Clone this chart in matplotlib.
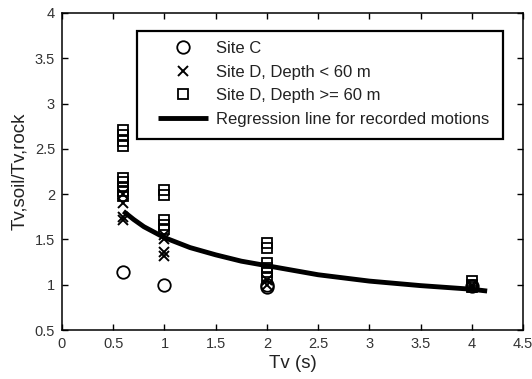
import matplotlib
matplotlib.use("Agg")
import matplotlib.pyplot as plt
from matplotlib.patches import Rectangle

plt.rcParams['font.family'] = ['Liberation Sans', 'DejaVu Sans']

# Site C (circles)
c_x = [0.6, 1.0, 2.0, 2.0, 4.0]
c_y = [1.14, 1.00, 1.00, 0.98, 0.99]
# Site D, depth < 60 m (crosses)
d1_x = [0.6, 0.6, 0.6, 0.6, 1.0, 1.0, 1.0, 1.0, 2.0, 2.0, 4.0, 4.0]
d1_y = [2.00, 1.90, 1.75, 1.72, 1.55, 1.50, 1.36, 1.32, 1.05, 1.00, 1.00, 0.98]
# Site D, depth >= 60 m (squares)
d2_x = [0.6, 0.6, 0.6, 0.6, 0.6, 0.6, 0.6, 0.6, 0.6,
        1.0, 1.0, 1.0, 1.0, 1.0,
        2.0, 2.0, 2.0, 2.0, 2.0, 2.0,
        4.0, 4.0, 4.0]
d2_y = [2.71, 2.65, 2.59, 2.53, 2.18, 2.13, 2.08, 2.03, 1.98,
        2.05, 1.99, 1.72, 1.66, 1.61,
        1.46, 1.40, 1.24, 1.19, 1.14, 1.09,
        1.04, 1.00, 0.97]
# Regression line for recorded motions
reg_x = [0.6, 0.7, 0.8, 0.9, 1.0, 1.25, 1.5, 1.75, 2.0, 2.5, 3.0, 3.5, 4.0, 4.15]
reg_y = [1.81, 1.72, 1.64, 1.58, 1.52, 1.41, 1.33, 1.26, 1.21, 1.11, 1.04, 0.99, 0.95, 0.93]

labels = ['Site C', 'Site D, Depth < 60 m', 'Site D, Depth >= 60 m',
          'Regression line for recorded motions']
xticks = [0, 0.5, 1, 1.5, 2, 2.5, 3, 3.5, 4, 4.5]
yticks = [0.5, 1, 1.5, 2, 2.5, 3, 3.5, 4]

fig = plt.figure(figsize=(5.32, 3.79), dpi=100)
ax = fig.add_axes([62/532, 1-330/379, 461/532, 317/379])

h1, = ax.plot(c_x, c_y, 'o', ms=9, mfc='none', mec='black', mew=1.3, label=labels[0])
h2, = ax.plot(d1_x, d1_y, 'x', ms=6.5, mec='black', mew=1.4, label=labels[1])
h3, = ax.plot(d2_x, d2_y, 's', ms=7, mfc='none', mec='black', mew=1.3, label=labels[2])
h4, = ax.plot(reg_x, reg_y, '-', color='black', lw=3.5, solid_capstyle='butt', label=labels[3])

ax.set_xlim(0, 4.5)
ax.set_ylim(0.5, 4)
ax.set_xticks(xticks)
ax.set_xticklabels([f'{t:g}' for t in xticks])
ax.set_yticks(yticks)
ax.set_yticklabels([f'{t:g}' for t in yticks])
ax.tick_params(direction='in', top=True, right=True, length=4, width=1,
               labelsize=10.5, colors='black', labelcolor='#333333', pad=5)
for s in ax.spines.values():
    s.set_linewidth(1.1)
ax.set_xlabel('Tv (s)', fontsize=13.5, labelpad=3, color='#222222')
ax.set_ylabel('Tv,soil/Tv,rock', fontsize=13.5, labelpad=5, color='#222222')

# legend frame
ax.add_patch(Rectangle(((137-62)/461, (330-139)/317), (503-137)/461, (139-31)/317,
                       transform=ax.transAxes, fill=False, ec='black', lw=1.6, zorder=5))
leg = ax.legend(handles=[h1, h2, h3, h4], loc='upper left',
                bbox_to_anchor=((158-62)/461, (330-41)/317), frameon=False,
                borderpad=0, borderaxespad=0, fontsize=12, handlelength=3.0,
                handletextpad=0.45, labelspacing=0.52)
for t in leg.get_texts():
    t.set_color('#222222')

fig.savefig('out.png', dpi=100)
